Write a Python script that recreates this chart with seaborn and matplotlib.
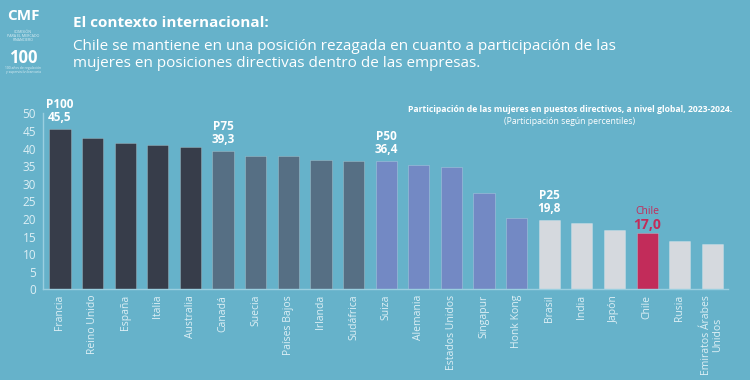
import matplotlib
matplotlib.use("Agg")
import matplotlib.pyplot as plt
import seaborn as sns
import pandas as pd

countries = ["Francia", "Reino Unido", "España", "Italia", "Australia", "Canadá", "Suecia",
             "Países Bajos", "Irlanda", "Sudáfrica", "Suiza", "Alemania", "Estados Unidos",
             "Singapur", "Honk Kong", "Brasil", "India", "Japón", "Chile", "Rusia",
             "Emiratos Árabes\nUnidos"]
values = [45.5, 43.1, 41.5, 40.9, 40.3, 39.3, 37.8, 37.8, 36.8, 36.5, 36.4, 35.3, 34.8,
          27.3, 20.3, 19.8, 18.8, 16.9, 15.9, 13.7, 12.9]
groups = ["P100"] * 5 + ["P75"] * 5 + ["P50"] * 5 + ["P25"] * 3 + ["Chile"] + ["P25"] * 2
group_colors = {"P100": "#373D4A", "P75": "#566F84", "P50": "#7389C4",
                "P25": "#D5D9DE", "Chile": "#C22C5A"}
annot_idx = [0, 5, 10, 15, 18]
annot_top = ["P100", "P75", "P50", "P25", "Chile"]
annot_val = ["45,5", "39,3", "36,4", "19,8", "17,0"]

BG = "#66B2CA"
LIGHT = "#DDEFF5"

sns.set_theme(style="white")
plt.rcParams["font.family"] = ["Open Sans", "DejaVu Sans"]

df = pd.DataFrame({"pais": countries, "valor": values, "grupo": groups})

fig = plt.figure(figsize=(7.5, 3.8), dpi=100)
fig.patch.set_facecolor(BG)
ax = fig.add_axes([0.0573, 0.2387, 0.9134, 0.4631])
ax.set_facecolor(BG)

sns.barplot(data=df, x="pais", y="valor", hue="grupo", palette=group_colors,
            dodge=False, width=0.65, legend=False, ax=ax, saturation=1,
            edgecolor=(1, 1, 1, 0.25), linewidth=0.6)

ax.set_xlim(-0.52, 20.48)
ax.set_ylim(0, 50)
ax.set_yticks(range(0, 51, 5))
ax.set_xlabel("")
ax.set_ylabel("")
ax.tick_params(axis="y", colors=LIGHT, labelsize=8.5, length=0, pad=5)
ax.tick_params(axis="x", colors=LIGHT, labelsize=7.5, length=0, pad=4, rotation=90)
for lab in ax.get_xticklabels():
    lab.set_linespacing(1.0)
for s in ["top", "right"]:
    ax.spines[s].set_visible(False)
for s in ["left", "bottom"]:
    ax.spines[s].set_color("#9ACFE0")
    ax.spines[s].set_linewidth(1.0)

for i, top, val in zip(annot_idx, annot_top, annot_val):
    v = values[i]
    if top == "Chile":
        ax.annotate(val, (i, v), xytext=(0, 1), textcoords="offset points",
                    ha="center", va="bottom", color="#C22C5A", fontsize=10, fontweight="bold")
        ax.annotate(top, (i, v), xytext=(0, 12), textcoords="offset points",
                    ha="center", va="bottom", color="#C22C5A", fontsize=7.5)
    else:
        ax.annotate(val, (i, v), xytext=(0, 3.5), textcoords="offset points",
                    ha="center", va="bottom", color="white", fontsize=8.5, fontweight="bold")
        ax.annotate(top, (i, v), xytext=(0, 13), textcoords="offset points",
                    ha="center", va="bottom", color="white", fontsize=8.5, fontweight="bold")

# Header
fig.text(73 / 750, 1 - 23 / 380, "El contexto internacional:", color="white",
         fontsize=11, fontweight="bold", va="center", ha="left")
fig.text(73 / 750, 1 - 55 / 380,
         "Chile se mantiene en una posición rezagada en cuanto a participación de las\n"
         "mujeres en posiciones directivas dentro de las empresas.",
         color="white", fontsize=11, va="center", ha="left", linespacing=1.15)

fig.text(570 / 750, 1 - 110 / 380,
         "Participación de las mujeres en puestos directivos, a nivel global, 2023-2024.",
         color="white", fontsize=6.2, fontweight="bold", ha="center", va="center")
fig.text(570 / 750, 1 - 121 / 380, "(Participación según percentiles)",
         color="white", fontsize=6.2, ha="center", va="center")

# Logo approximation
fig.text(23 / 750, 1 - 16 / 380, "CMF", color="white", fontsize=11,
         fontweight="bold", ha="center", va="center")
fig.text(23 / 750, 1 - 36 / 380, "COMISIÓN\nPARA EL MERCADO\nFINANCIERO", color=LIGHT,
         fontsize=2.6, ha="center", va="center", linespacing=1.1)
fig.text(23 / 750, 1 - 58 / 380, "100", color="white", fontsize=12,
         fontweight="bold", ha="center", va="center")
fig.text(23 / 750, 1 - 70 / 380, "100 años de regulación\ny supervisión bancaria",
         color=LIGHT, fontsize=2.4, ha="center", va="center", linespacing=1.1)

fig.savefig("out.png", dpi=100, facecolor=BG)
